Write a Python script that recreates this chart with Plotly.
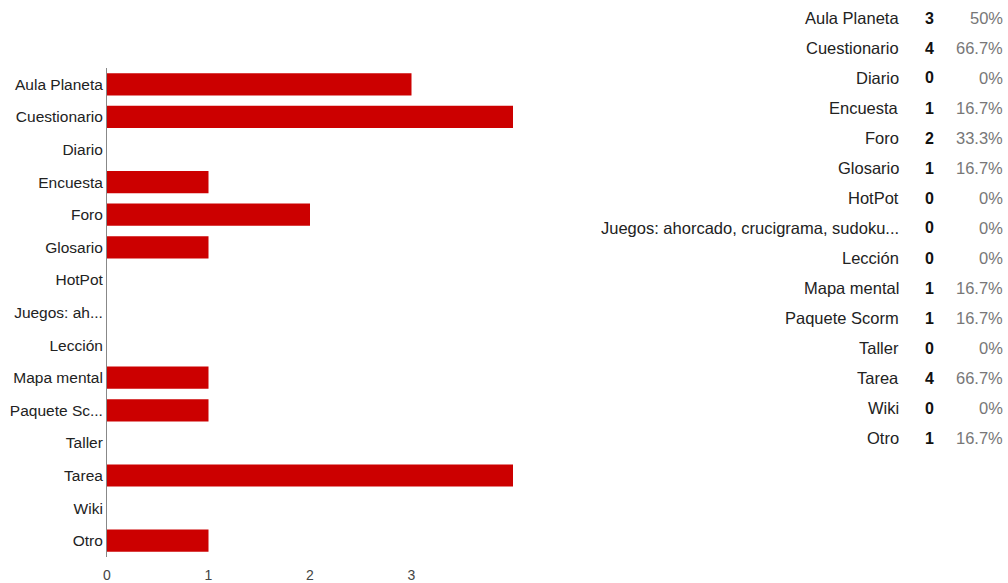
import plotly.graph_objects as go

categories = ["Aula Planeta", "Cuestionario", "Diario", "Encuesta", "Foro", "Glosario",
              "HotPot", "Juegos: ahorcado, crucigrama, sudoku...", "Lección", "Mapa mental",
              "Paquete Scorm", "Taller", "Tarea", "Wiki", "Otro"]
axis_labels = ["Aula Planeta", "Cuestionario", "Diario", "Encuesta", "Foro", "Glosario",
               "HotPot", "Juegos: ah...", "Lección", "Mapa mental",
               "Paquete Sc...", "Taller", "Tarea", "Wiki", "Otro"]
counts = [3, 4, 0, 1, 2, 1, 0, 0, 0, 1, 1, 0, 4, 0, 1]
percents = ["50%", "66.7%", "0%", "16.7%", "33.3%", "16.7%", "0%", "0%", "0%",
            "16.7%", "16.7%", "0%", "66.7%", "0%", "16.7%"]

# page body margin is removed below, so pixel coords map 1:1 to the figure
W, H = 1008, 583
L, T = 107, 68
R = W - 513
B = H - 557
pw, ph = W - L - R, H - T - B

font = "Liberation Sans, Arial, sans-serif"

fig = go.Figure(go.Bar(
    x=counts, y=categories, orientation="h",
    marker=dict(color="#cc0000", line=dict(width=0)),
    hoverinfo="x+y",
))

fig.update_layout(
    width=W, height=H,
    margin=dict(l=L, r=R, t=T, b=B, autoexpand=False),
    paper_bgcolor="white", plot_bgcolor="white",
    font=dict(family=font, size=15, color="#222222"),
    bargap=0.32,
    showlegend=False,
    xaxis=dict(range=[0, 4], tickvals=[0, 1, 2, 3], showgrid=False, zeroline=False,
               showline=False, ticks="", ticklabelstandoff=8, automargin=False,
               tickfont=dict(color="#444444", size=14)),
    yaxis=dict(categoryorder="array", categoryarray=categories[::-1],
               tickvals=categories, ticktext=axis_labels, automargin=False,
               showgrid=False, zeroline=False, showline=True, linecolor="#888888",
               linewidth=1, ticks="", ticklen=0, ticklabelstandoff=0,
               tickfont=dict(size=15.5, color="#222222")),
)


def px_x(x):
    return (x - L) / pw


def px_y(y):
    return (H - B - y) / ph


for i, (name, n, p) in enumerate(zip(categories, counts, percents)):
    yy = px_y(18 + 30 * i)
    fig.add_annotation(x=px_x(901), y=yy, xref="paper", yref="paper", text=name,
                       showarrow=False, xanchor="right", yanchor="middle",
                       font=dict(family=font, size=16.5, color="#222222"))
    fig.add_annotation(x=px_x(929), y=yy, xref="paper", yref="paper", text="<b>%d</b>" % n,
                       showarrow=False, xanchor="center", yanchor="middle",
                       font=dict(family=font, size=16, color="#111111"))
    fig.add_annotation(x=px_x(1005), y=yy, xref="paper", yref="paper", text=p,
                       showarrow=False, xanchor="right", yanchor="middle",
                       font=dict(family=font, size=16.5, color="#777777"))

fig.write_html("out.html", config={"displayModeBar": False},
               post_script="document.body.style.margin='0';document.body.style.overflow='hidden';")
